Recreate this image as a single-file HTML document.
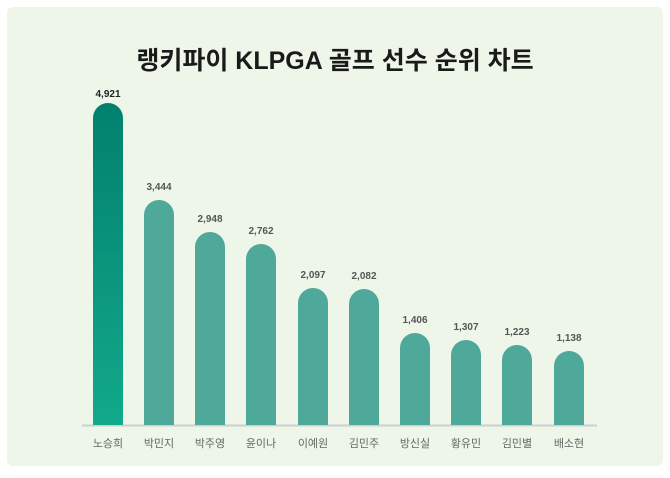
<!DOCTYPE html><html><head><meta charset="utf-8"><style>
body{margin:0;background:#fff;width:670px;height:473px;overflow:hidden}
</style></head><body>
<svg width="670" height="473" xmlns="http://www.w3.org/2000/svg" font-family="'Liberation Sans','Noto Sans CJK KR',sans-serif">
<defs><linearGradient id="g" x1="0" y1="0" x2="0" y2="1"><stop offset="0" stop-color="#02806f"/><stop offset="1" stop-color="#12a98a"/></linearGradient></defs>
<rect x="7" y="7" width="656" height="459" rx="6" fill="#eef6ea"/>
<text x="335" y="69" text-anchor="middle" font-size="25" font-weight="bold" fill="#1a1a1a">랭키파이 KLPGA 골프 선수 순위 차트</text>
<line x1="82" y1="425.5" x2="597" y2="425.5" stroke="#cfcfcf" stroke-width="2"/>
<g font-size="10" font-weight="bold" fill="#555" text-anchor="middle">
<path d="M93 425V118a15 15 0 0 1 30 0V425Z" fill="url(#g)"/><text x="108" y="97" fill="#222">4,921</text>
<path d="M144 425V215a15 15 0 0 1 30 0V425Z" fill="#4fa99a"/><text x="159" y="190">3,444</text>
<path d="M195 425V247a15 15 0 0 1 30 0V425Z" fill="#4fa99a"/><text x="210" y="222">2,948</text>
<path d="M246 425V259a15 15 0 0 1 30 0V425Z" fill="#4fa99a"/><text x="261" y="234">2,762</text>
<path d="M298 425V303a15 15 0 0 1 30 0V425Z" fill="#4fa99a"/><text x="313" y="278">2,097</text>
<path d="M349 425V304a15 15 0 0 1 30 0V425Z" fill="#4fa99a"/><text x="364" y="279">2,082</text>
<path d="M400 425V348a15 15 0 0 1 30 0V425Z" fill="#4fa99a"/><text x="415" y="323">1,406</text>
<path d="M451 425V355a15 15 0 0 1 30 0V425Z" fill="#4fa99a"/><text x="466" y="330">1,307</text>
<path d="M502 425V360a15 15 0 0 1 30 0V425Z" fill="#4fa99a"/><text x="517" y="335">1,223</text>
<path d="M554 425V366a15 15 0 0 1 30 0V425Z" fill="#4fa99a"/><text x="569" y="341">1,138</text>
</g>
<g font-size="11" fill="#666" text-anchor="middle">
<text x="108" y="447">노승희</text><text x="159" y="447">박민지</text><text x="210" y="447">박주영</text><text x="261" y="447">윤이나</text><text x="313" y="447">이예원</text><text x="364" y="447">김민주</text><text x="415" y="447">방신실</text><text x="466" y="447">황유민</text><text x="517" y="447">김민별</text><text x="569" y="447">배소현</text>
</g>
</svg>
</body></html>
